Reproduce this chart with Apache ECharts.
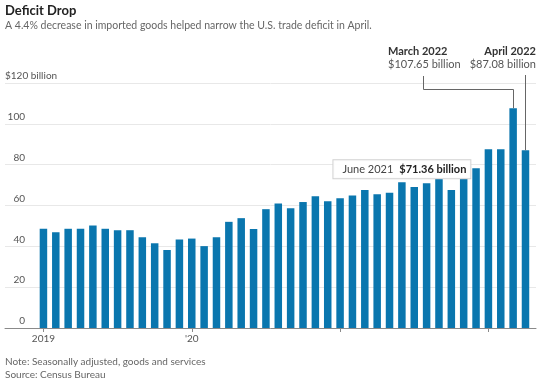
<!DOCTYPE html>
<html><head><meta charset="utf-8">
<script src="https://cdn.jsdelivr.net/npm/echarts@6/dist/echarts.min.js"></script>
<style>html,body{margin:0;padding:0;background:#fff}#c{width:543px;height:384px}</style>
</head><body><div id="c"></div>
<script>
const months = [
  'Jan 2019','Feb 2019','Mar 2019','Apr 2019','May 2019','Jun 2019','Jul 2019','Aug 2019','Sep 2019','Oct 2019','Nov 2019','Dec 2019',
  'Jan 2020','Feb 2020','Mar 2020','Apr 2020','May 2020','Jun 2020','Jul 2020','Aug 2020','Sep 2020','Oct 2020','Nov 2020','Dec 2020',
  'Jan 2021','Feb 2021','Mar 2021','Apr 2021','May 2021','Jun 2021','Jul 2021','Aug 2021','Sep 2021','Oct 2021','Nov 2021','Dec 2021',
  'Jan 2022','Feb 2022','Mar 2022','Apr 2022'
];
const deficit = [
  48.6, 46.9, 48.6, 48.6, 50.2, 48.6, 47.9, 47.9, 44.4, 41.5, 38.2, 43.4,
  43.8, 40.1, 44.4, 52.0, 53.8, 48.5, 58.2, 61.0, 58.7, 61.7, 64.5, 62.1,
  63.6, 64.9, 67.6, 65.5, 66.2, 71.36, 69.1, 70.9, 73.0, 67.6, 73.0, 78.3,
  87.6, 87.6, 107.65, 87.08
];
const xTickIdx = [0, 12, 24, 36];
const xLabelIdx = [0, 12];
const xLabelText = ['2019', "'20"];
const yTicks = [0, 20, 40, 60, 80, 100, 120];

const FONT = 'Lato';
const chart = echarts.init(document.getElementById('c'), null, {renderer: 'canvas'});
const iJune = months.indexOf('Jun 2021');
const iMar = months.indexOf('Mar 2022');
const iApr = months.indexOf('Apr 2022');
const yMax = yTicks[yTicks.length - 1];

chart.setOption({
  animation: false,
  textStyle: {fontFamily: FONT},
  grid: {left: 5, right: 7, top: 83, bottom: 56, containLabel: false, outerBoundsMode: 'none'},
  xAxis: {
    type: 'value', min: -3.11, max: 39.85,
    splitLine: {show: false},
    axisLine: {show: true, onZero: true, lineStyle: {color: '#8a8a8a', width: 1}},
    axisTick: {show: true, customValues: xTickIdx, length: 4, lineStyle: {color: '#8a8a8a'}},
    axisLabel: {
      customValues: xLabelIdx,
      formatter: v => { const k = xLabelIdx.indexOf(Math.round(v)); return k >= 0 ? xLabelText[k] : ''; },
      color: '#555', fontSize: 10, fontFamily: FONT, margin: 6
    }
  },
  yAxis: {
    type: 'value', min: yTicks[0], max: yMax, interval: 20,
    axisLine: {show: false}, axisTick: {show: false},
    splitLine: {lineStyle: {color: '#e8e8e8', width: 1}},
    axisLabel: {
      align: 'right', verticalAlign: 'bottom', margin: -20, padding: [0, 0, 2, 0],
      color: '#555', fontSize: 10, fontFamily: FONT,
      formatter: v => v === yMax ? '' : String(v)
    }
  },
  series: [{
    type: 'bar',
    data: deficit.map((v, i) => [i, v]),
    barWidth: 7.5,
    itemStyle: {color: '#0a76ae'},
    markPoint: {
      symbol: 'rect', symbolSize: 0,
      data: [{coord: [iJune, deficit[iJune]]}],
      label: {
        show: true, position: 'top', distance: 4,
        formatter: '{a|June 2021}{s|}{b|$' + deficit[iJune].toFixed(2) + ' billion}',
        backgroundColor: 'rgba(255,255,255,0.92)',
        borderColor: '#d2d2d2', borderWidth: 1,
        padding: [3, 4, 3, 9],
        rich: {
          a: {fontSize: 11, color: '#444', fontFamily: FONT},
          s: {width: 6},
          b: {fontSize: 11, fontWeight: 'bold', color: '#222', fontFamily: FONT}
        }
      }
    }
  }]
});

const pM = chart.convertToPixel({seriesIndex: 0}, [iMar, deficit[iMar]]);
const pA = chart.convertToPixel({seriesIndex: 0}, [iApr, deficit[iApr]]);
const pTop = chart.convertToPixel({seriesIndex: 0}, [0, yMax]);
const lineStyle = {stroke: '#666', lineWidth: 1, fill: null};
chart.setOption({
  graphic: [
    {type: 'text', left: 5, top: 4, style: {text: 'Deficit Drop', font: 'bold 13px ' + FONT, fill: '#222'}},
    {type: 'text', left: 5, top: 20, style: {text: 'A 4.4% decrease in imported goods helped narrow the U.S. trade deficit in April.', font: '10.5px ' + FONT, fill: '#666'}},
    {type: 'text', x: 5, y: pTop[1] - 2, style: {text: '$' + yMax + ' billion', font: '10px ' + FONT, fill: '#555', textVerticalAlign: 'bottom', textAlign: 'left'}},
    {type: 'text', x: 388, y: 51, style: {text: 'March 2022', font: 'bold 11px ' + FONT, fill: '#333', textVerticalAlign: 'middle', textAlign: 'left'}},
    {type: 'text', x: 388, y: 64, style: {text: '$' + deficit[iMar].toFixed(2) + ' billion', font: '11px ' + FONT, fill: '#555', textVerticalAlign: 'middle', textAlign: 'left'}},
    {type: 'text', x: 536, y: 51, style: {text: 'April 2022', font: 'bold 11px ' + FONT, fill: '#333', textVerticalAlign: 'middle', textAlign: 'right'}},
    {type: 'text', x: 536, y: 64, style: {text: '$' + deficit[iApr].toFixed(2) + ' billion', font: '11px ' + FONT, fill: '#555', textVerticalAlign: 'middle', textAlign: 'right'}},
    {type: 'polyline', shape: {points: [[423.5, 76], [423.5, 89.5], [Math.round(pM[0]) + 0.5, 89.5], [Math.round(pM[0]) + 0.5, pM[1]]]}, style: lineStyle, z: 10},
    {type: 'polyline', shape: {points: [[Math.round(pA[0]) + 0.5, 75], [Math.round(pA[0]) + 0.5, pA[1]]]}, style: lineStyle, z: 10},
    {type: 'text', x: 5, y: 362, style: {text: 'Note: Seasonally adjusted, goods and services', font: '10px ' + FONT, fill: '#666', textVerticalAlign: 'middle'}},
    {type: 'text', x: 5, y: 375, style: {text: 'Source: Census Bureau', font: '10px ' + FONT, fill: '#666', textVerticalAlign: 'middle'}}
  ]
});
</script>
</body></html>
